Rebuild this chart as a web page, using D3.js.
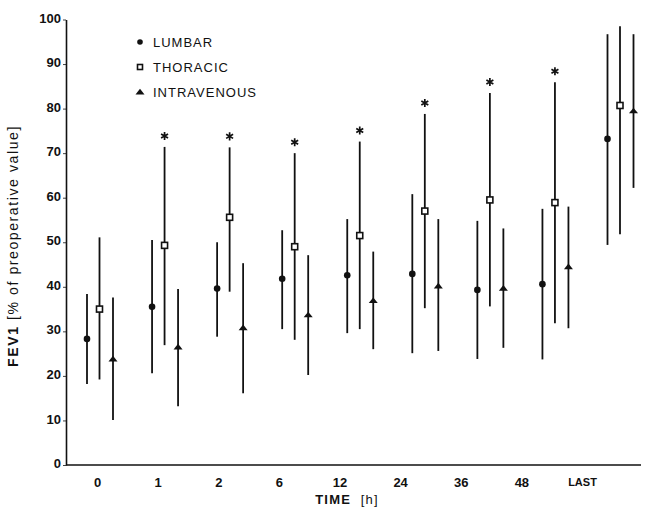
<!DOCTYPE html>
<html>
<head>
<meta charset="utf-8">
<script src="https://cdn.jsdelivr.net/npm/d3@7"></script>
<style>
    body { margin: 0; background: #fff; }
    svg { display: block; }
    text { font-family: "Liberation Sans", Arial, sans-serif; fill: #111; }
</style>
</head>
<body>
<div id="chart"></div>
<script>
// FEV1 after surgery, mean and range per time point
const times = ['0', '1', '2', '6', '12', '24', '36', '48', 'LAST'];

const lumbarMean = [28.3, 35.5, 39.6, 41.8, 42.6, 42.9, 39.3, 40.6, 73.2];
const lumbarLow  = [18.2, 20.6, 28.8, 30.5, 29.6, 25.1, 23.8, 23.7, 49.4];
const lumbarHigh = [38.4, 50.5, 50.0, 52.7, 55.2, 60.8, 54.8, 57.5, 96.7];

const thoracicMean = [35.0, 49.3, 55.6, 49.0, 51.5, 57.0, 59.5, 58.9, 80.7];
const thoracicLow  = [19.2, 26.9, 38.9, 28.1, 30.5, 35.2, 35.6, 31.8, 51.8];
const thoracicHigh = [51.1, 71.4, 71.3, 70.0, 72.6, 78.8, 83.5, 85.9, 98.5];

const ivMean = [23.8, 26.5, 30.8, 33.7, 36.9, 40.2, 39.7, 44.5, 79.5];
const ivLow  = [10.1, 13.2, 16.1, 20.2, 26.0, 25.6, 26.3, 30.7, 62.2];
const ivHigh = [37.6, 39.5, 45.3, 47.1, 47.9, 55.2, 53.1, 58.0, 96.7];

// thoracic vs others significant
const significant = [false, true, true, true, true, true, true, true, false];

const yTicks = [0, 10, 20, 30, 40, 50, 60, 70, 80, 90, 100];

const seriesNames = ['LUMBAR', 'THORACIC', 'INTRAVENOUS'];

const width = 645, height = 511;

const svg = d3.select('#chart')
    .append('svg')
    .attr('width', width)
    .attr('height', height);

const y = d3.scaleLinear().domain([0, 100]).range([465, 19.5]);
// group positions and label positions (labels sit a little left of the groups)
const x = d3.scalePoint().domain(times).range([99.5, 620]);
const xLabel = d3.scalePoint().domain(times).range([97, 582]);

const offsets = [-12.5, 0, 13.5];

// axes
const yAxis = svg.append('g')
    .attr('transform', 'translate(66,0)')
    .call(d3.axisLeft(y).tickValues(yTicks).tickSize(3).tickPadding(2).tickSizeOuter(0));
yAxis.select('.domain').attr('stroke', '#111').attr('stroke-width', 1.6);
yAxis.selectAll('.tick line').attr('stroke', '#111').attr('stroke-width', 0.8);
yAxis.selectAll('.tick text')
    .attr('font-size', 13)
    .attr('font-weight', 'bold')
    .attr('dy', '0.2em');

svg.append('line')
    .attr('x1', 66).attr('x2', 641)
    .attr('y1', y(0)).attr('y2', y(0))
    .attr('stroke', '#111')
    .attr('stroke-width', 1.6);

const xAxis = svg.append('g')
    .attr('transform', `translate(0,${y(0)})`)
    .call(d3.axisBottom(xLabel).tickSize(0).tickPadding(13));
xAxis.select('.domain').remove();
xAxis.selectAll('.tick text')
    .attr('font-size', d => d === 'LAST' ? 11 : 13)
    .attr('font-weight', 'bold');

// axis titles
svg.append('text')
    .attr('x', 347).attr('y', 504)
    .attr('text-anchor', 'middle')
    .attr('font-size', 13)
    .attr('font-weight', 'bold')
    .attr('letter-spacing', 1.2)
    .html('TIME&#160;&#160;<tspan font-weight="normal">[h]</tspan>');

svg.append('text')
    .attr('transform', 'translate(18,246) rotate(-90)')
    .attr('text-anchor', 'middle')
    .attr('font-size', 14)
    .attr('letter-spacing', 1.6)
    .html('<tspan font-weight="bold">FEV1</tspan> [% of preoperative value]');

// markers
const triPath = 'M-4.5,2.5L0,-3.2L4.5,2.5Z';
function marker(sel, s) {
    if (s === 0) {
        sel.append('circle').attr('r', 3.3).attr('fill', '#111');
    } else if (s === 1) {
        sel.append('rect')
            .attr('x', -3).attr('y', -3).attr('width', 6).attr('height', 6)
            .attr('fill', '#fff').attr('stroke', '#111').attr('stroke-width', 1.6);
    } else {
        sel.append('path').attr('d', triPath).attr('fill', '#111');
    }
}

const series = [
    { mean: lumbarMean, low: lumbarLow, high: lumbarHigh },
    { mean: thoracicMean, low: thoracicLow, high: thoracicHigh },
    { mean: ivMean, low: ivLow, high: ivHigh }
];

series.forEach((s, si) => {
    const rows = times.map((t, i) => ({ t, mean: s.mean[i], low: s.low[i], high: s.high[i] }));
    const g = svg.append('g');

    g.selectAll('line')
        .data(rows)
        .join('line')
        .attr('x1', d => x(d.t) + offsets[si])
        .attr('x2', d => x(d.t) + offsets[si])
        .attr('y1', d => y(d.low))
        .attr('y2', d => y(d.high))
        .attr('stroke', '#111')
        .attr('stroke-width', 1.8);

    g.selectAll('g.pt')
        .data(rows)
        .join('g')
        .attr('class', 'pt')
        .attr('transform', d => `translate(${x(d.t) + offsets[si]},${y(d.mean)})`)
        .each(function () { marker(d3.select(this), si); });
});

// significance stars above the thoracic bars
const starRows = times.map((t, i) => ({ t, high: thoracicHigh[i], sig: significant[i] }))
    .filter(d => d.sig);
svg.append('g')
    .selectAll('path')
    .data(starRows)
    .join('path')
    .attr('transform', d => `translate(${x(d.t) + offsets[1]},${y(d.high) - 11})`)
    .attr('d', d3.symbol(d3.symbolAsterisk, 45))
    .attr('stroke', '#111')
    .attr('stroke-width', 1.7)
    .attr('fill', 'none');

// legend
const legend = svg.append('g').attr('transform', 'translate(140,42)');
seriesNames.forEach((name, i) => {
    const row = legend.append('g').attr('transform', `translate(0,${i * 25})`);
    const m = row.append('g');
    marker(m, i);
    if (i === 0) m.select('circle').attr('r', 2.8);
    if (i === 1) m.select('rect').attr('x', -2.5).attr('y', -2.5).attr('width', 5).attr('height', 5);
    row.append('text')
        .attr('x', 13)
        .attr('y', 5)
        .attr('font-size', 13)
        .attr('letter-spacing', 1)
        .text(name);
});
</script>
</body>
</html>
